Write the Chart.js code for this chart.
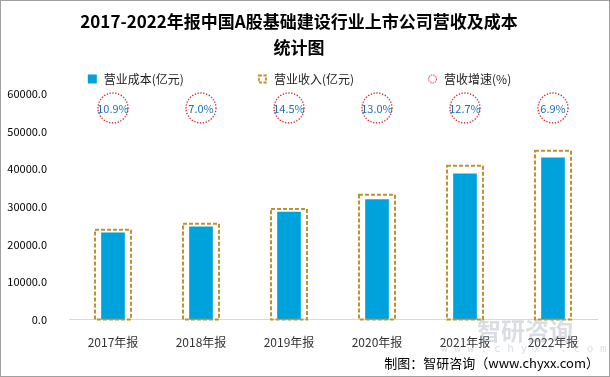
<!DOCTYPE html>
<html>
<head>
<meta charset="utf-8">
<script src="https://cdn.jsdelivr.net/npm/chart.js@4"></script>
<style>
  html, body { margin: 0; padding: 0; background: #fff; }
  #wrap { position: relative; width: 608px; height: 375px; border: 1px solid #a0a0a0; }
</style>
</head>
<body>
<div id="wrap"><canvas id="chart" width="608" height="375"></canvas></div>
<script>
const years = ['2017年报', '2018年报', '2019年报', '2020年报', '2021年报', '2022年报'];
const cost = [23100, 24700, 28600, 31900, 38800, 43000];
const revenue = [23900, 25500, 29400, 33200, 40900, 44900];
const growth = ['10.9%', '7.0%', '14.5%', '13.0%', '12.7%', '6.9%'];
const yTicks = [0, 10000, 20000, 30000, 40000, 50000, 60000];

const blue = '#00a2dc';
const gold = '#bf9230';
const red = '#d9232a';
const font = "'Noto Sans CJK SC', 'Noto Sans', sans-serif";
const legendGap = 73;

// little canvases used as legend icons
function icon(kind) {
    const c = document.createElement('canvas');
    c.width = 11; c.height = 11;
    const g = c.getContext('2d');
    if (kind === 'box') {
        g.fillStyle = blue;
        g.fillRect(1, 1, 9, 9);
    } else if (kind === 'dash') {
        g.strokeStyle = gold;
        g.lineWidth = 2;
        g.setLineDash([3, 1.5]);
        g.strokeRect(2, 2, 7, 7);
    } else {
        g.strokeStyle = red;
        g.lineWidth = 1.2;
        g.setLineDash([1.2, 1.2]);
        g.beginPath();
        g.arc(5.5, 5.5, 4, 0, Math.PI * 2);
        g.stroke();
    }
    return c;
}

// wide gaps between legend items, but keep the legend row short
const legendHeight = {
    id: 'legendHeight',
    beforeLayout(chart) {
        const lg = chart.legend;
        if (lg && !lg._patched) {
            const fit = lg.fit;
            lg.fit = function () { fit.call(this); this.height = 30; };
            const draw = lg._draw;
            lg._draw = function () {
                const t = this.top;
                this.top = t - legendGap + 9;
                draw.call(this);
                this.top = t;
            };
            lg._patched = true;
        }
    }
};

// dashed outline for revenue bars, dotted growth circles, footer text
const extras = {
    id: 'extras',
    afterDatasetsDraw(chart) {
        const ctx = chart.ctx;
        const meta = chart.getDatasetMeta(1);
        ctx.save();
        ctx.strokeStyle = gold;
        ctx.lineWidth = 2;
        ctx.setLineDash([4, 2]);
        meta.data.forEach(bar => {
            const p = bar.getProps(['x', 'y', 'base', 'width'], true);
            ctx.strokeRect(p.x - p.width / 2, p.y, p.width, p.base - p.y);
        });
        ctx.restore();

        const xs = chart.scales.x;
        const top = chart.chartArea.top + 14;
        ctx.save();
        growth.forEach((g, i) => {
            const x = xs.getPixelForValue(i);
            ctx.strokeStyle = red;
            ctx.lineWidth = 1.3;
            ctx.setLineDash([1.3, 1.6]);
            ctx.beginPath();
            ctx.arc(x, top, 15, 0, Math.PI * 2);
            ctx.stroke();
            ctx.fillStyle = '#1f6fb5';
            ctx.font = '11px ' + font;
            ctx.textAlign = 'center';
            ctx.textBaseline = 'middle';
            ctx.fillText(g, x, top + 1);
        });
        ctx.restore();
    },
    afterDraw(chart) {
        const ctx = chart.ctx;
        ctx.save();
        ctx.fillStyle = 'rgba(150,160,175,0.35)';
        ctx.font = "bold 24px " + font;
        ctx.textAlign = 'left';
        ctx.textBaseline = 'middle';
        ctx.fillText('智研咨询', 476, 330);
        ctx.font = "11px 'DejaVu Sans Mono', monospace";
        ctx.fillText('w w w . c h y x x . c o m', 440, 348);
        ctx.fillStyle = '#000';
        ctx.font = '13px ' + font;
        ctx.textAlign = 'right';
        ctx.fillText('制图：智研咨询（www.chyxx.com）', 598, 362);
        ctx.restore();
    }
};

new Chart(document.getElementById('chart'), {
    type: 'bar',
    data: {
        labels: years,
        datasets: [
            {
                label: '营业成本(亿元)',
                data: cost,
                backgroundColor: blue,
                barThickness: 23,
                grouped: false,
                order: 0
            },
            {
                label: '营业收入(亿元)',
                data: revenue,
                backgroundColor: 'rgba(255,255,255,0)',
                borderWidth: 0,
                barThickness: 36,
                grouped: false,
                order: 1
            },
            {
                type: 'line',
                label: '营收增速(%)',
                data: [],
                showLine: false,
                pointRadius: 0
            }
        ]
    },
    options: {
        responsive: false,
        animation: false,
        layout: { padding: { left: 0, right: 12, top: 4, bottom: 18 } },
        plugins: {
            title: {
                display: true,
                text: ['2017-2022年报中国A股基础建设行业上市公司营收及成本', '统计图'],
                color: '#000',
                font: { family: font, size: 17, weight: 'bold', lineHeight: 1.5 },
                padding: { top: 4, bottom: 4 }
            },
            legend: {
                labels: {
                    usePointStyle: true,
                    boxWidth: 11,
                    boxHeight: 11,
                    padding: legendGap,
                    color: '#222',
                    font: { family: font, size: 12 },
                    generateLabels: chart => chart.data.datasets.map((ds, i) => ({
                        text: ds.label,
                        pointStyle: icon(['box', 'dash', 'circle'][i]),
                        fillStyle: 'transparent',
                        strokeStyle: 'transparent',
                        lineWidth: 0,
                        fontColor: '#222',
                        datasetIndex: i
                    }))
                }
            },
            tooltip: { enabled: false }
        },
        scales: {
            x: {
                grid: { display: false },
                border: { color: '#d9d9d9', width: 1 },
                ticks: { color: '#333', font: { family: font, size: 12 }, padding: 8 }
            },
            y: {
                min: 0,
                max: 60000,
                afterBuildTicks: axis => { axis.ticks = yTicks.map(v => ({ value: v })); },
                afterFit: axis => { axis.width = 68; },
                grid: { display: false },
                border: { display: false },
                ticks: {
                    color: '#000',
                    font: { family: font, size: 11 },
                    padding: 14,
                    callback: v => v.toFixed(1)
                }
            }
        }
    },
    plugins: [legendHeight, extras]
});
</script>
</body>
</html>
